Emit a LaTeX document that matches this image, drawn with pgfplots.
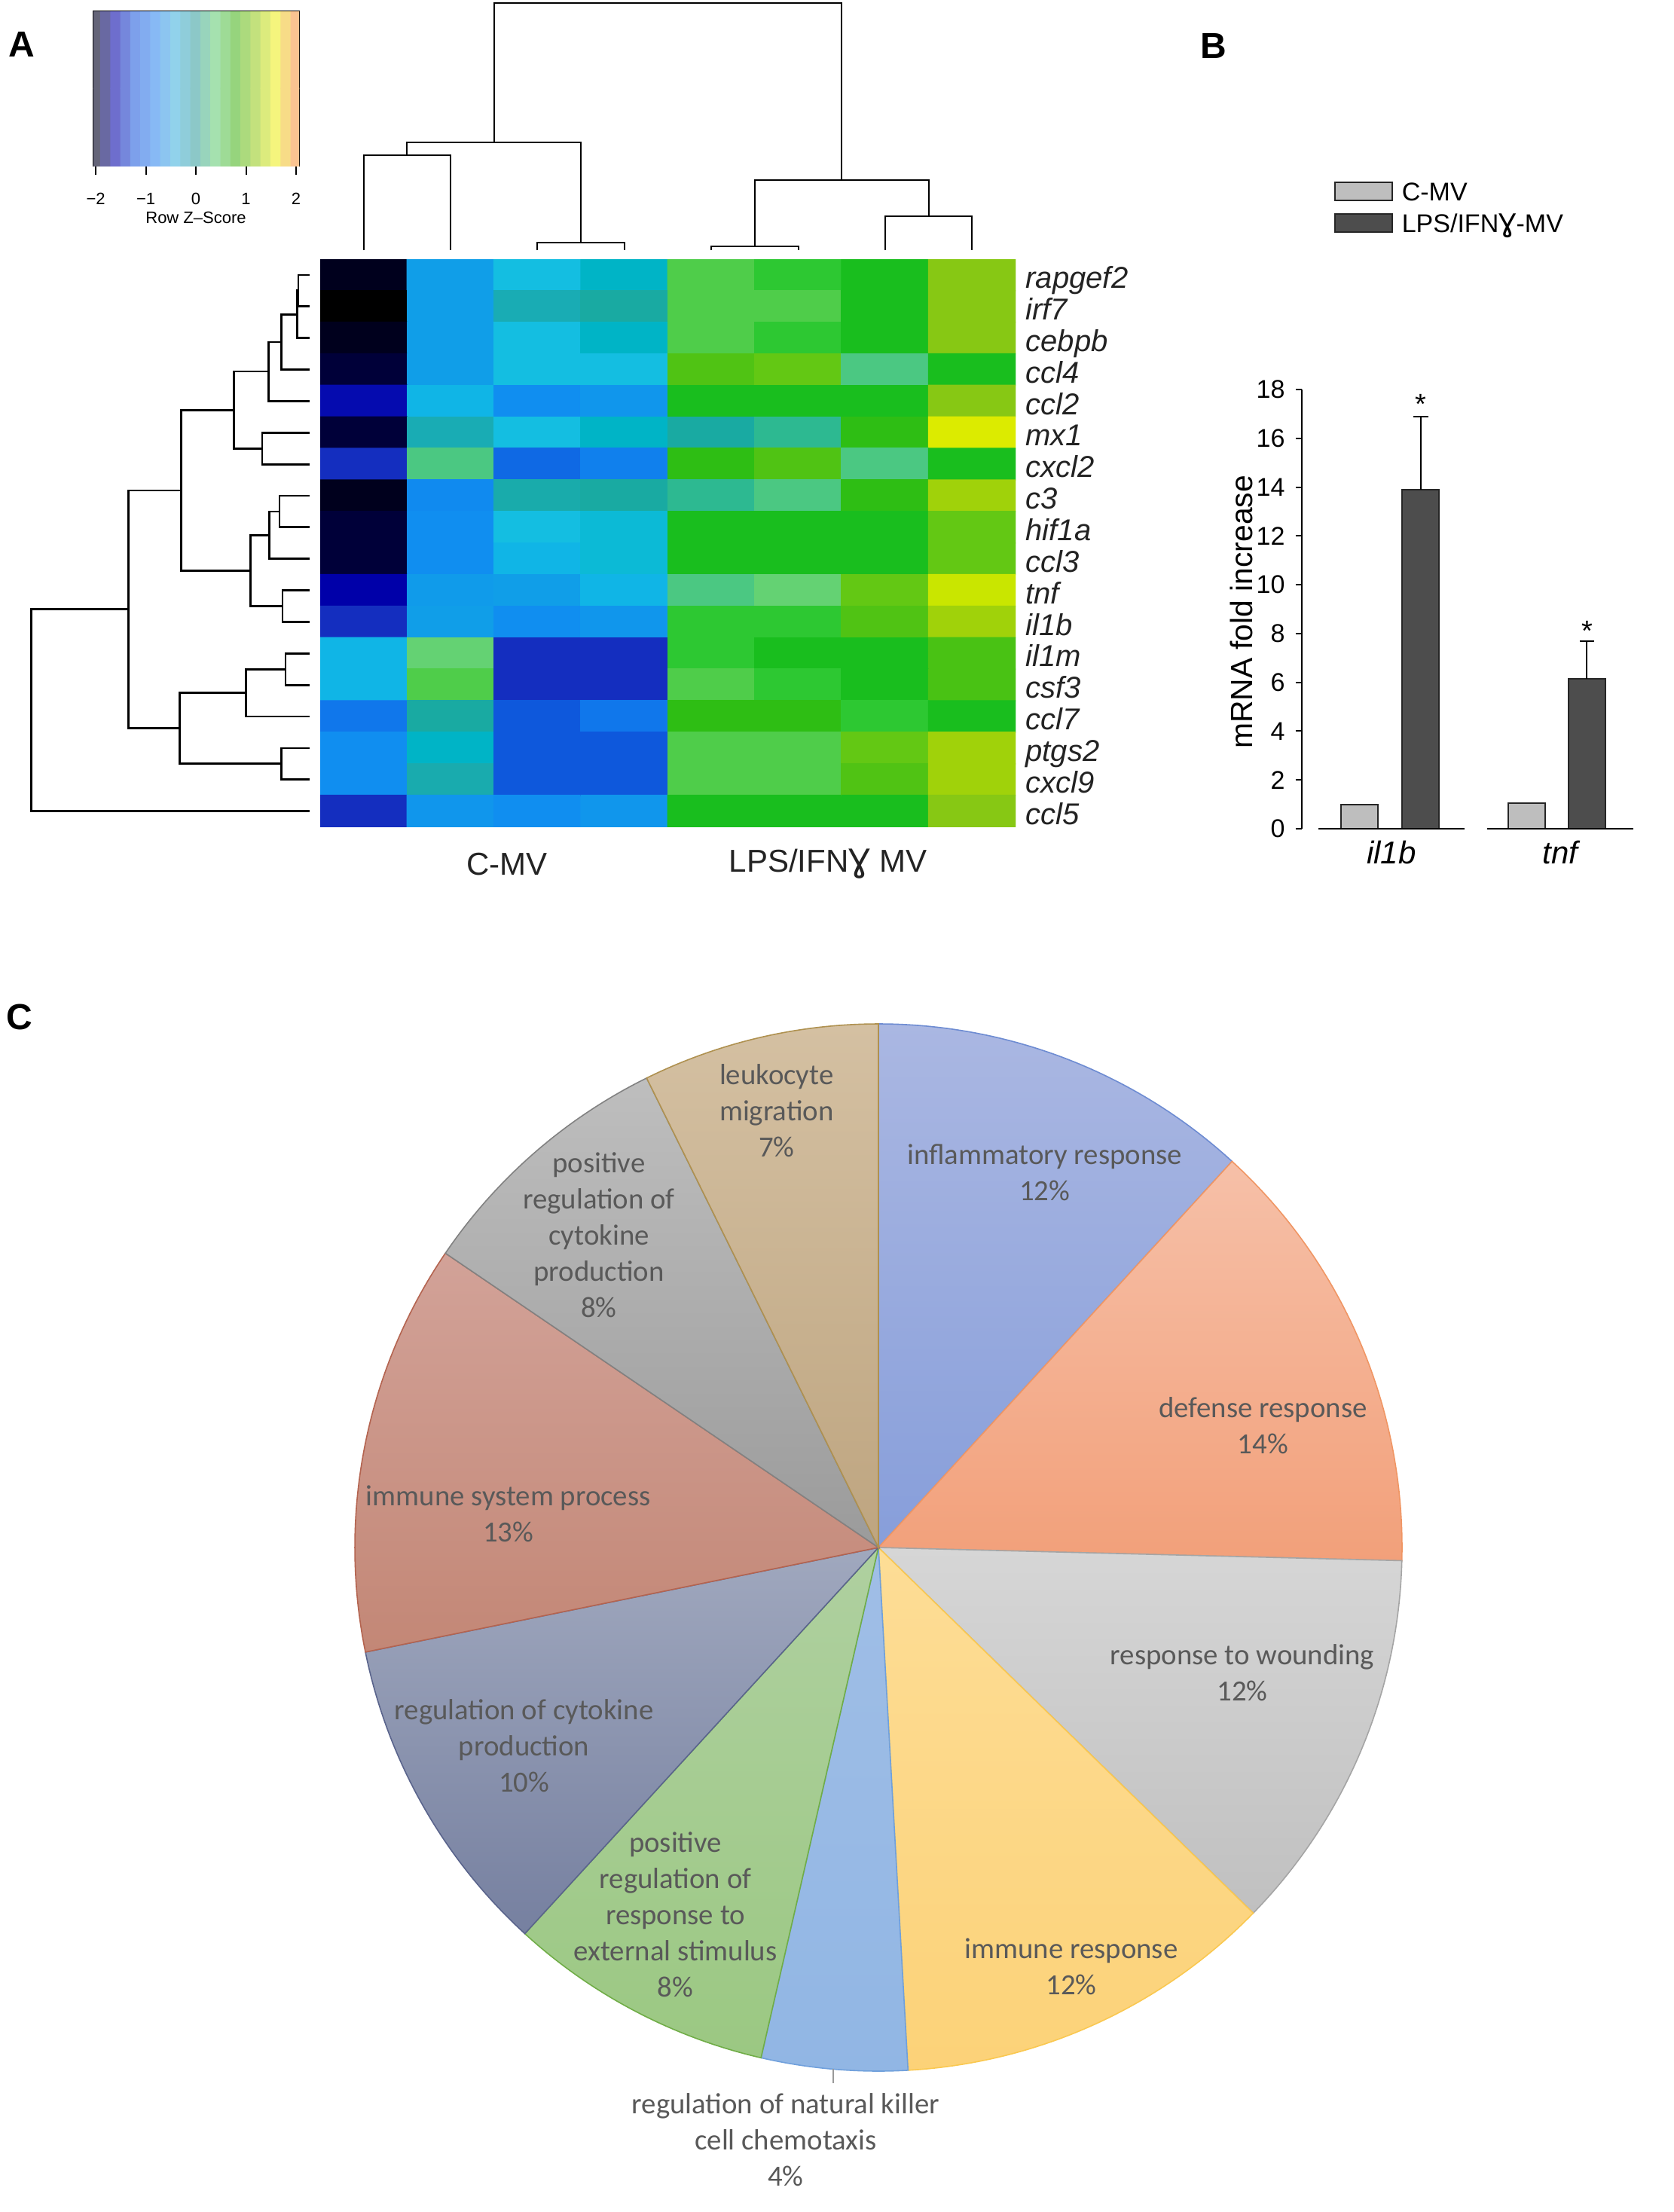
\documentclass[border=0pt]{standalone}
\usepackage{fontspec}
\setmainfont{Liberation Sans}
\newfontfamily\carlito{Carlito}
\newfontfamily\dejavu{DejaVu Sans}
\usepackage{pgfplots}
\pgfplotsset{compat=1.18}
\definecolor{pielab}{RGB}{89,89,89}
\definecolor{barlight}{RGB}{190,190,190}
\definecolor{bardark}{RGB}{77,77,77}
\definecolor{genetxt}{RGB}{35,35,35}
% pie colours (top, bottom, edge)
\definecolor{t1}{RGB}{170,183,226}\definecolor{b1}{RGB}{135,158,218}\definecolor{e1}{RGB}{110,140,210}
\definecolor{t2}{RGB}{246,192,168}\definecolor{b2}{RGB}{242,160,122}\definecolor{e2}{RGB}{240,150,100}
\definecolor{t3}{RGB}{214,214,214}\definecolor{b3}{RGB}{192,192,192}\definecolor{e3}{RGB}{165,165,165}
\definecolor{t4}{RGB}{253,221,150}\definecolor{b4}{RGB}{252,210,120}\definecolor{e4}{RGB}{250,200,80}
\definecolor{t5}{RGB}{160,190,230}\definecolor{b5}{RGB}{145,182,228}\definecolor{e5}{RGB}{112,160,220}
\definecolor{t6}{RGB}{175,208,160}\definecolor{b6}{RGB}{155,200,130}\definecolor{e6}{RGB}{112,173,71}
\definecolor{t7}{RGB}{160,168,190}\definecolor{b7}{RGB}{118,128,160}\definecolor{e7}{RGB}{90,100,140}
\definecolor{t8}{RGB}{210,162,152}\definecolor{b8}{RGB}{195,135,118}\definecolor{e8}{RGB}{180,100,80}
\definecolor{t9}{RGB}{190,190,190}\definecolor{b9}{RGB}{155,155,155}\definecolor{e9}{RGB}{130,130,130}
\definecolor{t10}{RGB}{212,192,162}\definecolor{b10}{RGB}{190,165,128}\definecolor{e10}{RGB}{175,145,80}
\pgfplotsset{
 colormap={keymap}{rgb255=(100,100,120) rgb255=(110,110,205) rgb255=(125,160,235) rgb255=(135,185,245)
   rgb255=(145,210,235) rgb255=(140,200,200) rgb255=(165,225,175) rgb255=(150,212,125)
   rgb255=(195,225,125) rgb255=(245,245,125) rgb255=(250,195,145)},
 colormap={hm}{rgb255=(0,0,0) rgb255=(0,0,30) rgb255=(0,0,55) rgb255=(0,0,170) rgb255=(20,45,190)
   rgb255=(14,88,220) rgb255=(16,120,235) rgb255=(16,142,240) rgb255=(16,158,232) rgb255=(16,182,230)
   rgb255=(20,190,225) rgb255=(0,180,198) rgb255=(25,172,180) rgb255=(25,170,162) rgb255=(45,185,145)
   rgb255=(75,200,130) rgb255=(100,210,115) rgb255=(80,205,75) rgb255=(45,200,50) rgb255=(25,190,30)
   rgb255=(45,190,20) rgb255=(80,195,20) rgb255=(100,200,20) rgb255=(135,200,20) rgb255=(160,210,10)
   rgb255=(200,230,0) rgb255=(220,235,0)},
 dendc/.style={black, solid, mark=none, line width=0.5pt},
 dendr/.style={black, solid, mark=none, line width=0.7pt},
}
\begin{document}
\begin{tikzpicture}
\useasboundingbox (0,0) rectangle (555.5pt,-734pt);
\fill[white] (0,0) rectangle (555.5pt,-734pt);

% ---------- colour key ----------
\begin{axis}[at={(30.95pt,-55pt)}, anchor=south west, scale only axis,
  width=68.3pt, height=51.25pt,
  xmin=-2.05, xmax=2.06, ymin=-0.5, ymax=1.5,
  colormap name=keymap, point meta min=-2, point meta max=2,
  axis line style={line width=0.6pt, black},
  ytick=\empty, xtick={-2,-1,0,1,2}, xticklabels={−2,−1,0,1,2},
  xtick pos=left, tick align=outside, major tick length=3pt,
  xtick style={black, line width=0.5pt},
  xticklabel style={font=\fontsize{5.5}{6}\selectfont, yshift=-2.5pt}]
\addplot[matrix plot*, mesh/cols=21, point meta=explicit] coordinates {
(-2.0,0) [-2.0] (-1.8,0) [-1.8] (-1.6,0) [-1.6] (-1.4,0) [-1.4] (-1.2,0) [-1.2] (-1.0,0) [-1.0] (-0.8,0) [-0.8]
(-0.6,0) [-0.6] (-0.4,0) [-0.4] (-0.2,0) [-0.2] (0.0,0) [0.0] (0.2,0) [0.2] (0.4,0) [0.4] (0.6,0) [0.6]
(0.8,0) [0.8] (1.0,0) [1.0] (1.2,0) [1.2] (1.4,0) [1.4] (1.6,0) [1.6] (1.8,0) [1.8] (2.0,0) [2.0]
(-2.0,1) [-2.0] (-1.8,1) [-1.8] (-1.6,1) [-1.6] (-1.4,1) [-1.4] (-1.2,1) [-1.2] (-1.0,1) [-1.0] (-0.8,1) [-0.8]
(-0.6,1) [-0.6] (-0.4,1) [-0.4] (-0.2,1) [-0.2] (0.0,1) [0.0] (0.2,1) [0.2] (0.4,1) [0.4] (0.6,1) [0.6]
(0.8,1) [0.8] (1.0,1) [1.0] (1.2,1) [1.2] (1.4,1) [1.4] (1.6,1) [1.6] (1.8,1) [1.8] (2.0,1) [2.0]
};
\end{axis}
\node[font=\fontsize{5.5}{6}\selectfont] at (65pt,-72.25pt) {Row Z–Score};

% ---------- heatmap ----------
\begin{axis}[at={(106.25pt,-274.4pt)}, anchor=south west, scale only axis,
  width=230.75pt, height=188.4pt,
  xmin=-0.5, xmax=7.5, ymin=-0.5, ymax=17.5, y dir=reverse,
  axis line style={draw=none}, xtick=\empty, major tick length=0pt,
  ytick={0,...,17},
  yticklabels={rapgef2,irf7,cebpb,ccl4,ccl2,mx1,cxcl2,c3,hif1a,ccl3,tnf,il1b,il1m,csf3,ccl7,ptgs2,cxcl9,ccl5},
  yticklabel pos=right,
  yticklabel style={anchor=base west, inner sep=0pt, xshift=3.2pt, yshift=-4.4pt,
     font=\fontsize{10}{12}\selectfont\itshape, text=genetxt},
  colormap name=hm, point meta min=-2, point meta max=2]
\addplot[matrix plot*, mesh/cols=8, point meta=explicit] coordinates {
(0,0) [-1.85] (1,0) [-0.77] (2,0) [-0.46] (3,0) [-0.31] (4,0) [0.62] (5,0) [0.77] (6,0) [0.92] (7,0) [1.54]
(0,1) [-2.00] (1,1) [-0.77] (2,1) [-0.15] (3,1) [0.00] (4,1) [0.62] (5,1) [0.62] (6,1) [0.92] (7,1) [1.54]
(0,2) [-1.85] (1,2) [-0.77] (2,2) [-0.46] (3,2) [-0.31] (4,2) [0.62] (5,2) [0.77] (6,2) [0.92] (7,2) [1.54]
(0,3) [-1.69] (1,3) [-0.77] (2,3) [-0.46] (3,3) [-0.46] (4,3) [1.23] (5,3) [1.38] (6,3) [0.31] (7,3) [0.92]
(0,4) [-1.50] (1,4) [-0.62] (2,4) [-0.92] (3,4) [-0.85] (4,4) [0.92] (5,4) [0.92] (6,4) [0.92] (7,4) [1.54]
(0,5) [-1.69] (1,5) [-0.15] (2,5) [-0.46] (3,5) [-0.31] (4,5) [0.00] (5,5) [0.15] (6,5) [1.08] (7,5) [2.00]
(0,6) [-1.38] (1,6) [0.31] (2,6) [-1.15] (3,6) [-1.02] (4,6) [1.08] (5,6) [1.23] (6,6) [0.31] (7,6) [0.92]
(0,7) [-1.85] (1,7) [-0.95] (2,7) [-0.08] (3,7) [0.00] (4,7) [0.15] (5,7) [0.31] (6,7) [1.08] (7,7) [1.69]
(0,8) [-1.69] (1,8) [-0.92] (2,8) [-0.46] (3,8) [-0.40] (4,8) [0.92] (5,8) [0.92] (6,8) [0.92] (7,8) [1.38]
(0,9) [-1.69] (1,9) [-0.92] (2,9) [-0.62] (3,9) [-0.40] (4,9) [0.92] (5,9) [0.92] (6,9) [0.92] (7,9) [1.38]
(0,10) [-1.54] (1,10) [-0.80] (2,10) [-0.77] (3,10) [-0.62] (4,10) [0.31] (5,10) [0.46] (6,10) [1.38] (7,10) [1.85]
(0,11) [-1.38] (1,11) [-0.77] (2,11) [-0.92] (3,11) [-0.85] (4,11) [0.77] (5,11) [0.77] (6,11) [1.23] (7,11) [1.69]
(0,12) [-0.62] (1,12) [0.46] (2,12) [-1.38] (3,12) [-1.38] (4,12) [0.77] (5,12) [0.92] (6,12) [0.92] (7,12) [1.20]
(0,13) [-0.62] (1,13) [0.62] (2,13) [-1.38] (3,13) [-1.38] (4,13) [0.62] (5,13) [0.77] (6,13) [0.92] (7,13) [1.20]
(0,14) [-1.08] (1,14) [0.00] (2,14) [-1.23] (3,14) [-1.08] (4,14) [1.08] (5,14) [1.08] (6,14) [0.77] (7,14) [0.92]
(0,15) [-0.92] (1,15) [-0.31] (2,15) [-1.23] (3,15) [-1.23] (4,15) [0.62] (5,15) [0.62] (6,15) [1.38] (7,15) [1.69]
(0,16) [-0.92] (1,16) [-0.10] (2,16) [-1.23] (3,16) [-1.23] (4,16) [0.62] (5,16) [0.62] (6,16) [1.23] (7,16) [1.69]
(0,17) [-1.38] (1,17) [-0.85] (2,17) [-0.92] (3,17) [-0.85] (4,17) [0.92] (5,17) [0.92] (6,17) [0.92] (7,17) [1.54]
};
\end{axis}
\node[font=\fontsize{10.5}{12}\selectfont, text=genetxt] at (168.25pt,-286.75pt) {C-MV};
\node[font=\fontsize{10.5}{12}\selectfont, text=genetxt] at (274.75pt,-286.75pt) {LPS/IFN{\dejavu Ɣ} MV};

% ---------- column dendrogram ----------
\begin{axis}[at={(106.25pt,-83pt)}, anchor=south west, scale only axis,
  width=230.75pt, height=82pt, xmin=-0.5, xmax=7.5, ymin=0, ymax=328,
  hide axis, clip=false]
\addplot[dendc] coordinates {(0,0) (0,126) (1,126) (1,0)};
\addplot[dendc] coordinates {(2,0) (2,10) (3,10) (3,0)};
\addplot[dendc] coordinates {(0.5,126) (0.5,143) (2.5,143) (2.5,10)};
\addplot[dendc] coordinates {(4,0) (4,5) (5,5) (5,0)};
\addplot[dendc] coordinates {(6,0) (6,45) (7,45) (7,0)};
\addplot[dendc] coordinates {(4.5,5) (4.5,93) (6.5,93) (6.5,45)};
\addplot[dendc] coordinates {(1.5,143) (1.5,328) (5.5,328) (5.5,93)};
\end{axis}

% ---------- row dendrogram ----------
\begin{axis}[at={(10.425pt,-274.4pt)}, anchor=south west, scale only axis,
  width=92.325pt, height=188.4pt, xmin=0, xmax=369, x dir=reverse,
  ymin=-0.5, ymax=17.5, y dir=reverse, hide axis, clip=false]
\addplot[dendr] coordinates {(0,0) (15,0) (15,1) (0,1)};
\addplot[dendr] coordinates {(15,0.5) (16.3,0.5) (16.3,2) (0,2)};
\addplot[dendr] coordinates {(16.3,1.25) (37.3,1.25) (37.3,3) (0,3)};
\addplot[dendr] coordinates {(37.3,2.125) (54.7,2.125) (54.7,4) (0,4)};
\addplot[dendr] coordinates {(0,5) (63,5) (63,6) (0,6)};
\addplot[dendr] coordinates {(54.7,3.06) (100.7,3.06) (100.7,5.5) (63,5.5)};
\addplot[dendr] coordinates {(0,7) (40,7) (40,8) (0,8)};
\addplot[dendr] coordinates {(40,7.5) (53.7,7.5) (53.7,9) (0,9)};
\addplot[dendr] coordinates {(0,10) (36,10) (36,11) (0,11)};
\addplot[dendr] coordinates {(53.7,8.25) (78.3,8.25) (78.3,10.5) (36,10.5)};
\addplot[dendr] coordinates {(100.7,4.28) (170.3,4.28) (170.3,9.375) (78.3,9.375)};
\addplot[dendr] coordinates {(0,12) (32,12) (32,13) (0,13)};
\addplot[dendr] coordinates {(32,12.5) (84.7,12.5) (84.7,14) (0,14)};
\addplot[dendr] coordinates {(0,15) (37.3,15) (37.3,16) (0,16)};
\addplot[dendr] coordinates {(84.7,13.25) (172.7,13.25) (172.7,15.5) (37.3,15.5)};
\addplot[dendr] coordinates {(170.3,6.83) (240.3,6.83) (240.3,14.375) (172.7,14.375)};
\addplot[dendr] coordinates {(240.3,10.6) (369,10.6) (369,17) (0,17)};
\end{axis}

% ---------- bar chart ----------
\begin{axis}[at={(432pt,-275pt)}, anchor=south west, scale only axis,
  width=110pt, height=145.75pt,
  xmin=0.469, xmax=2.433, ymin=0, ymax=18,
  axis lines=left, axis line style={-, black, line width=0.5pt},
  x axis line style={draw=none},
  xtick={1,2}, xticklabels={il1b,tnf}, xtick style={draw=none},
  xticklabel style={font=\fontsize{10.5}{12}\selectfont\itshape, yshift=1.5pt},
  ytick={0,2,...,18}, tick align=outside, major tick length=2.1pt,
  ytick style={black, line width=0.5pt},
  yticklabel style={font=\fontsize{8.5}{10}\selectfont},
  /pgf/number format/assume math mode=true,
  clip=false]
\addplot[ybar, bar width=12.25pt, bar shift=0pt, fill=barlight, draw=black!85, line width=0.5pt]
  coordinates {(0.81,1.0) (1.80,1.05)};
\addplot[ybar, bar width=12.25pt, bar shift=0pt, fill=bardark, draw=black!85, line width=0.5pt,
  error bars/.cd, y dir=plus, y explicit,
  error bar style={black, line width=0.5pt},
  error mark options={rotate=90, mark size=2.4pt, black, line width=0.5pt}]
  coordinates {(1.174,13.9) +- (0,3.0) (2.158,6.13) +- (0,1.57)};
\draw[black, line width=0.6pt] (axis cs:0.567,0) -- (axis cs:1.433,0);
\draw[black, line width=0.6pt] (axis cs:1.569,0) -- (axis cs:2.433,0);
\node[font=\fontsize{9.5}{10}\selectfont] at (axis cs:1.174,17.41) {*};
\node[font=\fontsize{9.5}{10}\selectfont] at (axis cs:2.158,8.12) {*};
\end{axis}
\node[rotate=90, font=\fontsize{10.2}{12}\selectfont] at (411.9pt,-203.1pt) {mRNA fold increase};
% legend
\draw[fill=barlight, draw=black!85, line width=0.5pt] (443pt,-60.5pt) rectangle (462pt,-66.5pt);
\draw[fill=bardark, draw=black!85, line width=0.5pt] (443pt,-71pt) rectangle (462pt,-77pt);
\node[anchor=base west, inner sep=0pt, font=\fontsize{8.5}{10}\selectfont] at (465pt,-66.55pt) {C-MV};
\node[anchor=base west, inner sep=0pt, font=\fontsize{8.5}{10}\selectfont] at (465pt,-77.05pt) {LPS/IFN{\dejavu Ɣ}-MV};

% ---------- panel letters ----------
\node[font=\bfseries\fontsize{12}{14}\selectfont] at (7.25pt,-14.75pt) {A};
\node[font=\bfseries\fontsize{12}{14}\selectfont] at (402.75pt,-15.25pt) {B};
\node[font=\bfseries\fontsize{12}{14}\selectfont] at (6.5pt,-337.5pt) {C};

% ---------- pie chart ----------
\begin{scope}[shift={(291.5pt,-513.5pt)}]
\foreach \p/\n [remember=\e as \s (initially 90), evaluate=\p as \e using {\s-3.6*\p}] in
  {11.8/1, 13.6/2, 11.9/3, 11.8/4, 4.5/5, 8.2/6, 10.0/7, 12.7/8, 8.2/9, 7.3/10}{
  \shadedraw[top color=t\n, bottom color=b\n, draw=e\n, line width=0.4pt]
    (0,0) -- (\s:173.75pt) arc[start angle=\s, end angle=\e, radius=173.75pt] -- cycle;
}
\end{scope}
\begin{scope}[every node/.style={font=\carlito\fontsize{9.7}{12}\selectfont, text=pielab, align=center}]
\node at (257.7pt,-368.5pt) {leukocyte\\migration\\7\%};
\node at (198.75pt,-409.9pt) {positive\\regulation of\\cytokine\\production\\8\%};
\node at (346.65pt,-389pt) {inflammatory response\\12\%};
\node at (419.1pt,-473pt) {defense response\\14\%};
\node at (168.7pt,-502.4pt) {immune system process\\13\%};
\node at (412.25pt,-555pt) {response to wounding\\12\%};
\node at (173.9pt,-579.25pt) {regulation of cytokine\\production\\10\%};
\node at (224.15pt,-635.25pt) {positive\\regulation of\\response to\\external stimulus\\8\%};
\node at (355.5pt,-652.5pt) {immune response\\12\%};
\node at (260.75pt,-710pt) {regulation of natural killer\\cell chemotaxis\\4\%};
\end{scope}
\draw[black!40, line width=0.3pt] (276.5pt,-686.5pt) -- (276.5pt,-691.25pt);
\end{tikzpicture}
\end{document}
